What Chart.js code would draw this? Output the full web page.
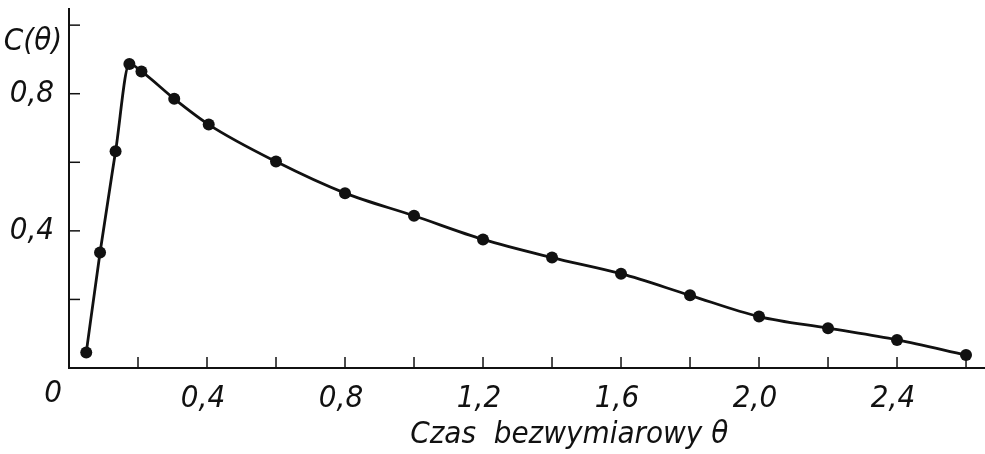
<!DOCTYPE html>
<html>
<head>
<meta charset="utf-8">
<script src="https://cdn.jsdelivr.net/npm/chart.js@4/dist/chart.umd.min.js"></script>
<style>
  html, body { margin: 0; padding: 0; background: #fff; }
  #wrap { width: 985px; height: 454px; position: relative; }
</style>
</head>
<body>
<div id="wrap"><canvas id="c"></canvas></div>
<script>
  // dimensionless time theta and measured concentration C(theta)
  const thetaValues = [0.05, 0.09, 0.135, 0.175, 0.21, 0.305, 0.405, 0.6, 0.8, 1.0, 1.2, 1.4, 1.6, 1.8, 2.0, 2.2, 2.4, 2.6];
  const cValues = [0.045, 0.337, 0.632, 0.887, 0.865, 0.785, 0.71, 0.602, 0.51, 0.444, 0.375, 0.322, 0.275, 0.212, 0.15, 0.116, 0.082, 0.038];

  const xTicks = [0.2, 0.4, 0.6, 0.8, 1.0, 1.2, 1.4, 1.6, 1.8, 2.0, 2.2, 2.4, 2.6];
  const xTickLabels = { 0.4: "0,4", 0.8: "0,8", 1.2: "1,2", 1.6: "1,6", 2.0: "2,0", 2.4: "2,4" };
  const yTicks = [0.2, 0.4, 0.6, 0.8, 1.0];
  const yTickLabels = { 0.4: "0,4", 0.8: "0,8" };
  const yTitle = "C(θ)";
  const xTitle = "Czas  bezwymiarowy θ";

  const FONT = '"Liberation Sans Narrow", "DejaVu Sans Condensed", "Liberation Sans", sans-serif';

  const axesPlugin = {
    id: "axesPlugin",
    afterDraw(chart) {
      const { ctx, chartArea: a, scales } = chart;
      const x = scales.x, y = scales.y;
      ctx.save();
      ctx.strokeStyle = "#111";
      ctx.fillStyle = "#111";
      ctx.lineWidth = 2;
      // axis lines
      ctx.beginPath();
      ctx.moveTo(a.left, a.top);
      ctx.lineTo(a.left, a.bottom);
      ctx.lineTo(a.right, a.bottom);
      ctx.stroke();
      // inward ticks
      ctx.lineWidth = 1.5;
      xTicks.forEach((v) => {
        const px = x.getPixelForValue(v);
        ctx.beginPath();
        ctx.moveTo(px, a.bottom);
        ctx.lineTo(px, a.bottom - 11);
        ctx.stroke();
      });
      yTicks.forEach((v) => {
        const py = y.getPixelForValue(v);
        ctx.beginPath();
        ctx.moveTo(a.left, py);
        ctx.lineTo(a.left + 11, py);
        ctx.stroke();
      });
      // labels
      ctx.font = "italic 31px " + FONT;
      ctx.textBaseline = "middle";
      ctx.textAlign = "center";
      Object.keys(xTickLabels).forEach((k) => {
        ctx.fillText(xTickLabels[k], x.getPixelForValue(Number(k)) - 4, a.bottom + 31);
      });
      ctx.fillText("0", a.left - 16, a.bottom + 26);
      ctx.textAlign = "right";
      Object.keys(yTickLabels).forEach((k) => {
        ctx.fillText(yTickLabels[k], a.left - 15, y.getPixelForValue(Number(k)));
      });
      ctx.textAlign = "center";
      ctx.fillText(yTitle, a.left - 36, y.getPixelForValue(0.95));
      ctx.font = "italic 31px " + FONT;
      ctx.fillText(xTitle, x.getPixelForValue(1.45), a.bottom + 67);
      ctx.restore();
    },
  };

  new Chart(document.getElementById("c"), {
    type: "line",
    data: {
      datasets: [
        {
          data: thetaValues.map((t, i) => ({ x: t, y: cValues[i] })),
          borderColor: "#111",
          backgroundColor: "#111",
          borderWidth: 2.8,
          pointRadius: 6,
          pointBackgroundColor: "#111",
          pointBorderWidth: 0,
          cubicInterpolationMode: "monotone",
          clip: false,
        },
      ],
    },
    options: {
      responsive: true,
      maintainAspectRatio: false,
      animation: false,
      layout: { autoPadding: false, padding: { left: 69, right: 0, top: 8, bottom: 86 } },
      plugins: { legend: { display: false }, tooltip: { enabled: false } },
      scales: {
        x: { type: "linear", min: 0, max: 2.655, display: false },
        y: { type: "linear", min: 0, max: 1.05, display: false },
      },
    },
    plugins: [axesPlugin],
  });
</script>
</body>
</html>
